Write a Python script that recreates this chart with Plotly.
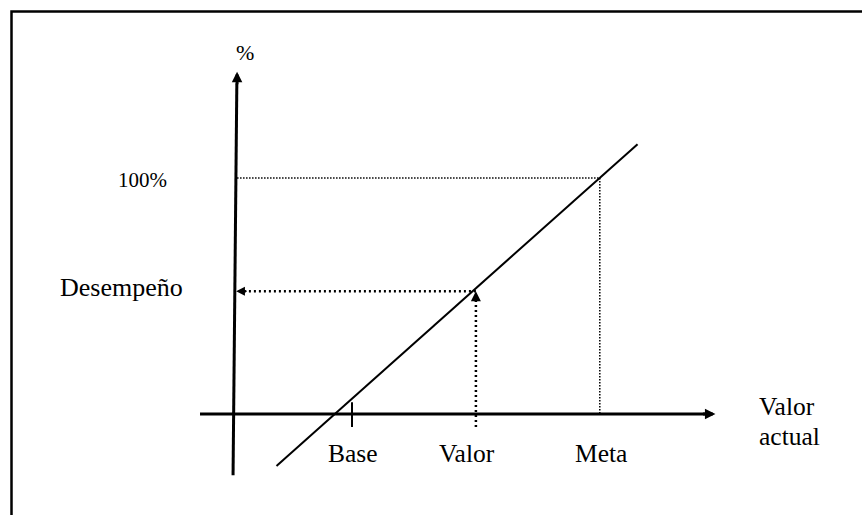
"""
Performance scale diagram: linear mapping from actual value to % achievement.
"""

import plotly.graph_objects as go


# ─── Data ──────────────────────────────────────────────────────────────────────
# diagram units: origin at the axes crossing, 100 = "100%" level

AXIS_Y_X = [-0.4, 1.2]
AXIS_Y_Y = [-26, 140]
AXIS_X_X = [-14.4, 200]
AXIS_X_Y = [0, 0]

LINE_X = [18, 171]
LINE_Y = [-22, 114.3]

BASE_X = 50
VALOR_X = 102.5
META_X = 155
DESEMPENO_Y = 52
TOP_Y = 100

TICK_LABELS = ["Base", "Valor", "Meta"]
TICK_LABEL_X = [50.4, 98.9, 155.7]


# ─── Figure ────────────────────────────────────────────────────────────────────

FONT = "'Liberation Serif', 'Times New Roman', serif"
BLACK = "#000000"


def line(x, y, width, dash="solid"):
    return go.Scatter(x=x, y=y, mode="lines", hoverinfo="skip",
                      line=dict(color=BLACK, width=width, dash=dash))


def arrow(x, y, ax, ay, width, size):
    return dict(x=x, y=y, ax=ax, ay=ay, xref="x", yref="y", text="",
                showarrow=True, arrowhead=2, arrowwidth=width,
                arrowsize=size, arrowcolor=BLACK)


def label(text, x, y, size=25.5, xanchor="center"):
    return dict(x=x, y=y, xref="x", yref="y", text=text, showarrow=False,
                xanchor=xanchor, yanchor="middle",
                font=dict(family=FONT, size=size, color=BLACK))


fig = go.Figure()

# axes
fig.add_trace(line(AXIS_Y_X, AXIS_Y_Y, 3))
fig.add_trace(line(AXIS_X_X, AXIS_X_Y, 3))

# dotted guides
fig.add_trace(line([1.3, META_X], [TOP_Y, TOP_Y], 1.5, "1.5px,1.5px"))
fig.add_trace(line([META_X, META_X], [TOP_Y, 0], 1.5, "1.5px,1.5px"))
fig.add_trace(line([VALOR_X, VALOR_X], [-5.5, DESEMPENO_Y - 2], 2.5, "2px,3px"))
fig.add_trace(line([VALOR_X, 3], [DESEMPENO_Y, DESEMPENO_Y], 2.5, "2px,3px"))

# performance line and base tick
fig.add_trace(line(LINE_X, LINE_Y, 2))
fig.add_trace(line([BASE_X, BASE_X], [5, -5.5], 2))

annotations = [
    arrow(AXIS_Y_X[1] + 0.1, 145, 0, 14, 3, 0.7),
    arrow(204, 0, -14, 0, 3, 0.7),
    arrow(VALOR_X, DESEMPENO_Y, 0, 12, 2, 1),
    arrow(0.9, DESEMPENO_Y, 12, 0, 1.6, 1.1),
    label("%", 4.7, 153.1, size=22),
    label("100%", -38.6, 99.2, size=21),
    label("Desempeño", -47.7, 53.6, size=26),
    label("Valor", 221.6, 3.2, xanchor="left"),
    label("actual", 221.6, -9.5, xanchor="left"),
]
for text, x in zip(TICK_LABELS, TICK_LABEL_X):
    annotations.append(label(text, x, -16.7))

fig.update_layout(
    width=862, height=515,
    margin=dict(l=0, r=0, t=0, b=0),
    paper_bgcolor="white", plot_bgcolor="white",
    showlegend=False, hovermode=False,
    xaxis=dict(range=[-99.15, 266.1], visible=False, fixedrange=True),
    yaxis=dict(range=[-42.8, 175.4], visible=False, fixedrange=True),
    annotations=annotations,
    shapes=[dict(type="rect", xref="paper", yref="paper",
                 x0=11.5 / 862, x1=1.05, y0=-0.05, y1=1 - 11.5 / 515,
                 line=dict(color=BLACK, width=2.5))],
)

# drop the default page margin so the figure sits at the window's corner
fig.write_html("out.html", config={"displayModeBar": False},
               post_script="document.body.style.margin = '0';")
